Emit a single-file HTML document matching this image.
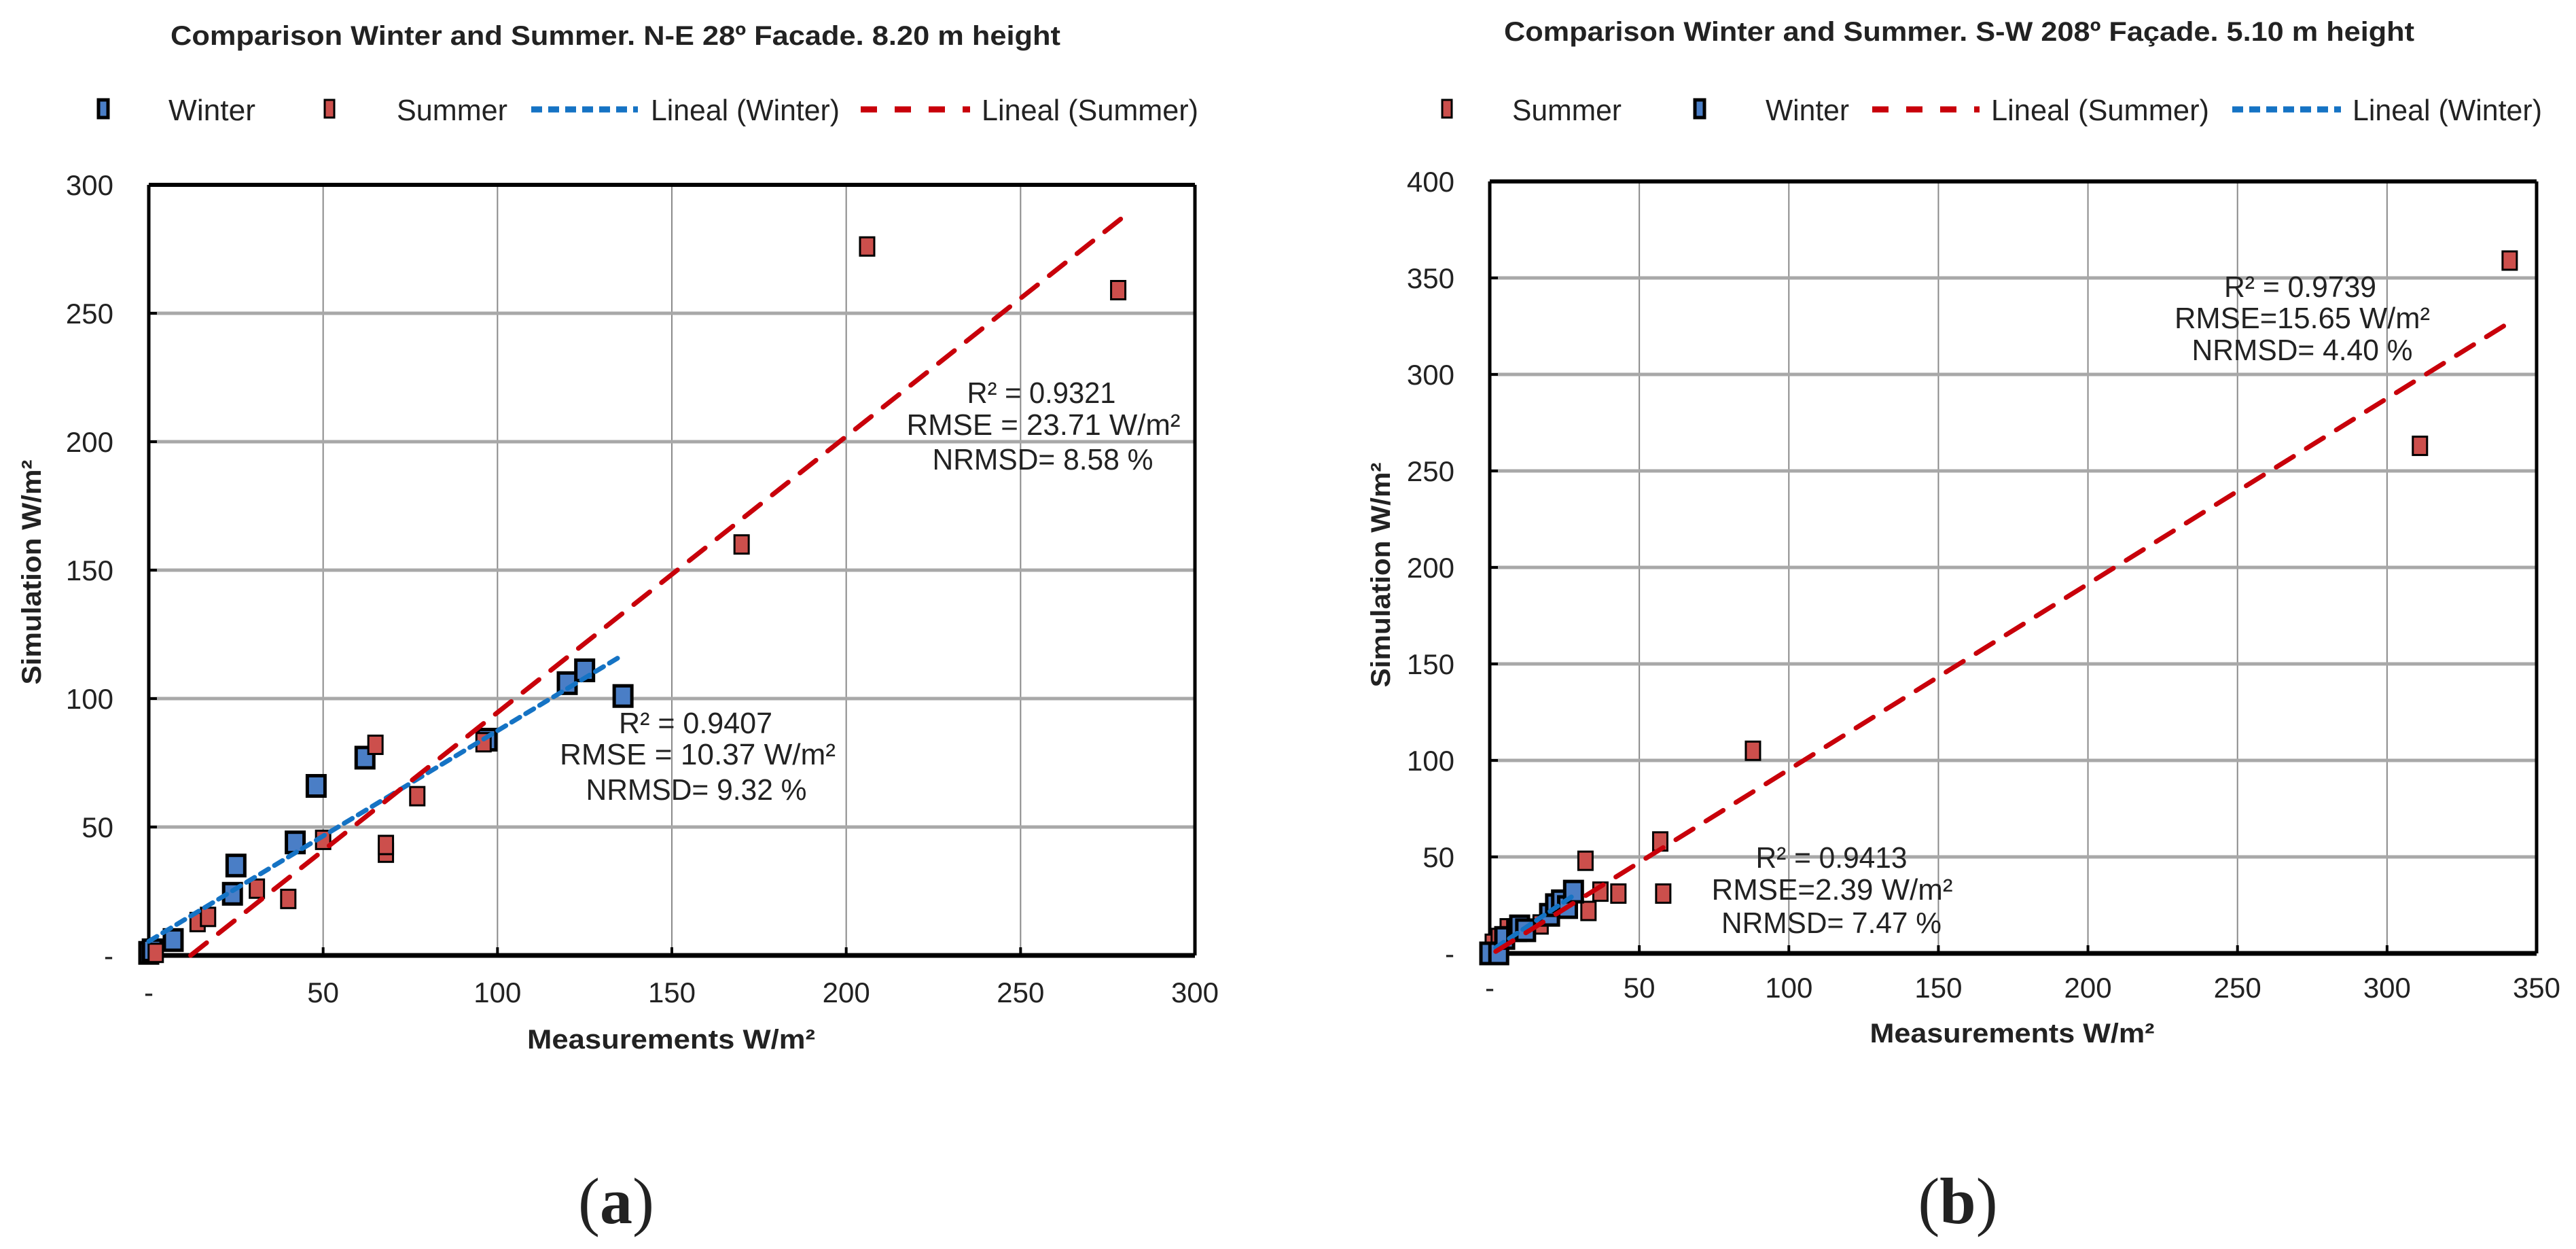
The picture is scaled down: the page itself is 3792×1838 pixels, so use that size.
<!DOCTYPE html>
<html><head><meta charset="utf-8"><style>
html,body{margin:0;padding:0;background:#fff}
svg{display:block}
text{font-family:"Liberation Sans",Arial,sans-serif;fill:#222}
</style></head>
<body>
<svg id="fig" width="3792" height="1838" viewBox="0 0 3792 1838" xmlns="http://www.w3.org/2000/svg"></svg>
<script>
// ---- Chart (a) data ----
const aWinterX = [0, 1, 7, 24, 25, 42, 48, 62, 97, 120, 125, 136];
const aWinterY = [1, 2, 6, 24, 35, 44, 66, 77, 84, 106, 111, 101];
const aSummerX = [2, 14, 17, 31, 40, 50, 65, 68, 68, 77, 96, 170, 206, 278];
const aSummerY = [1, 13, 15, 26, 22, 45, 82, 40, 43, 62, 83, 160, 276, 259];
const aWinterFit = [[0, 5.5], [136, 117]];
const aSummerFit = [[12, 0], [279, 287]];
const aXTicks = [0, 50, 100, 150, 200, 250, 300];
const aYTicks = [0, 50, 100, 150, 200, 250, 300];
// ---- Chart (b) data ----
const bWinterX = [0, 3, 5, 9, 10, 12, 20, 22, 24, 26, 28];
const bWinterY = [0, 0, 8, 12, 14, 12, 20, 25, 27, 24, 32];
const bSummerX = [1, 3, 6, 17, 32, 33, 37, 43, 57, 58, 88, 311, 341];
const bSummerY = [5, 8, 13, 15, 48, 22, 32, 31, 58, 31, 105, 263, 359];
const bSummerFit = [[2, 1], [341, 327]];
const bWinterFit = [[2, 3], [28, 30]];
const bXTicks = [0, 50, 100, 150, 200, 250, 300, 350];
const bYTicks = [0, 50, 100, 150, 200, 250, 300, 350, 400];

const NS = "http://www.w3.org/2000/svg";
const svg = document.getElementById('fig');
function mk(tag, attrs, parent) {
  const e = document.createElementNS(NS, tag);
  for (const k in attrs) e.setAttribute(k, attrs[k]);
  (parent || svg).appendChild(e);
  return e;
}
function txt(s, x, y, size, opts, parent) {
  opts = opts || {};
  const t = mk('text', {x: x, y: y, 'font-size': size, 'text-anchor': opts.anchor || 'start'}, parent);
  if (opts.bold) t.setAttribute('font-weight', 'bold');
  if (opts.len) { t.setAttribute('textLength', opts.len); t.setAttribute('lengthAdjust', 'spacingAndGlyphs'); }
  if (opts.rot) t.setAttribute('transform', 'rotate(-90 ' + x + ' ' + y + ')');
  t.textContent = s;
  return t;
}

function drawChart(cfg) {
  const g = mk('g', {});
  
  
  const sx = v => cfg.x0 + (v - cfg.xmin) / (cfg.xmax - cfg.xmin) * (cfg.x1 - cfg.x0);
  const sy = v => cfg.y0 - (v - cfg.ymin) / (cfg.ymax - cfg.ymin) * (cfg.y0 - cfg.y1);

  const ti = txt(cfg.title, cfg.titleX, cfg.titleY, 40, {anchor: 'middle', bold: true, len: cfg.titleLen}, g);
  
  

  cfg.xTicks.forEach(v => {
    if (v === cfg.xmin || v === cfg.xmax) return;
    const l = mk('line', {x1: sx(v), x2: sx(v), y1: cfg.y1, y2: cfg.y0, stroke: '#8a8a8a', 'stroke-width': 2}, g);
    
    
  });
  cfg.yTicks.forEach(v => {
    if (v === cfg.ymin || v === cfg.ymax) return;
    const l = mk('line', {x1: cfg.x0, x2: cfg.x1, y1: sy(v), y2: sy(v), stroke: '#a8a8a8', 'stroke-width': 5}, g);
    
    
  });
  const topL = mk('line', {x1: cfg.x0, x2: cfg.x1, y1: cfg.y1, y2: cfg.y1, stroke: '#000', 'stroke-width': 6}, g);
  
  
  const rL = mk('line', {x1: cfg.x1, x2: cfg.x1, y1: cfg.y1, y2: cfg.y0, stroke: '#000', 'stroke-width': 5}, g);
  
  
  const xa = mk('line', {x1: cfg.x0, x2: cfg.x1, y1: cfg.y0, y2: cfg.y0, stroke: '#000', 'stroke-width': 7}, g);
  
  
  const ya = mk('line', {x1: cfg.x0, x2: cfg.x0, y1: cfg.y1, y2: cfg.y0 + 3, stroke: '#000', 'stroke-width': 5}, g);
  
  

  cfg.yTicks.forEach(v => {
    const m = mk('line', {x1: cfg.x0, x2: cfg.x0 + 12, y1: sy(v), y2: sy(v), stroke: '#000', 'stroke-width': 4}, g);
    
    
    const t = txt(v === 0 ? '-' : String(v), cfg.x0 - 52, sy(v) + 15, 42, {anchor: 'end'}, g);
    
    
  });
  cfg.xTicks.forEach(v => {
    const m = mk('line', {x1: sx(v), x2: sx(v), y1: cfg.y0, y2: cfg.y0 - 12, stroke: '#000', 'stroke-width': 4}, g);
    
    
    const t = txt(v === 0 ? '-' : String(v), sx(v), cfg.xLabY, 42, {anchor: 'middle'}, g);
    
    
  });
  const xt = txt('Measurements W/m\u00B2', cfg.xTitleX, cfg.xTitleY, 40, {anchor: 'middle', bold: true, len: cfg.xTitleLen}, g);
  
  
  const yt = txt('Simulation W/m\u00B2', cfg.yTitleX, cfg.yTitleY, 40, {anchor: 'middle', bold: true, rot: true, len: 331}, g);
  
  

  function markers(xs, ys, kind) {
    xs.forEach((xv, i) => {
      const w = kind === 'winter' ? 26 : 21, h = kind === 'winter' ? 30 : 27;
      const r = mk('rect', {x: sx(xv) - w / 2, y: sy(ys[i]) - h / 2, width: w, height: h,
        fill: kind === 'winter' ? '#4a7ec6' : '#cc4f4c', stroke: '#000',
        'stroke-width': kind === 'winter' ? 5 : 3}, g);
      
      
    });
  }
  function fit(pts, kind) {
    const l = mk('line', {x1: sx(pts[0][0]), y1: sy(pts[0][1]), x2: sx(pts[1][0]), y2: sy(pts[1][1]),
      stroke: kind === 'winter' ? '#1573c4' : '#c8000a', 'stroke-width': 7,
      'stroke-dasharray': kind === 'winter' ? '14 10' : '30 22', 'stroke-linecap': 'round'}, g);
    
    
  }
  cfg.order.forEach(s => {
    if (s === 'winter') markers(cfg.wx, cfg.wy, 'winter');
    if (s === 'summer') markers(cfg.sx_, cfg.sy_, 'summer');
  });
  fit(cfg.wfit, 'winter');
  fit(cfg.sfit, 'summer');

  cfg.notes.forEach(n => {
    const t = txt(n[0], n[1], n[2], 44, {anchor: 'middle', len: n[3]}, g);
    
    
  });

  cfg.legend.forEach(it => {
    if (it.type === 'marker') {
      const r = mk('rect', {x: it.x - 7, y: 147, width: 14, height: 26,
        fill: it.kind === 'winter' ? '#4a7ec6' : '#cc4f4c', stroke: '#000', 'stroke-width': it.kind === 'winter' ? 5 : 3}, g);
      
      
    } else {
      const l = mk('line', {x1: it.x, x2: it.x2, y1: 161, y2: 161,
        stroke: it.kind === 'winter' ? '#1573c4' : '#c8000a', 'stroke-width': 9,
        'stroke-dasharray': it.kind === 'winter' ? '16 9' : '24 26'}, g);
      
      
    }
    const t = txt(it.label, it.tx, 177, 44, {len: it.tlen}, g);
    
    
  });
}

drawChart({
  name: 'chart-a', x0: 219, x1: 1759, y0: 1406, y1: 272, xmin: 0, xmax: 300, ymin: 0, ymax: 300,
  xTicks: aXTicks, yTicks: aYTicks, xLabY: 1475,
  title: 'Comparison Winter and Summer. N-E 28\u00BA Facade. 8.20 m height', titleX: 906, titleY: 66, titleLen: 1310,
  xTitleX: 988, xTitleY: 1543, xTitleLen: 424, yTitleX: 60, yTitleY: 842,
  wx: aWinterX, wy: aWinterY, sx_: aSummerX, sy_: aSummerY, wfit: aWinterFit, sfit: aSummerFit,
  order: ['winter', 'summer'],
  notes: [['R\u00B2 = 0.9321', 1533, 593, 219], ['RMSE = 23.71 W/m\u00B2', 1536, 640, 403], ['NRMSD= 8.58 %', 1535, 691, 325],
          ['R\u00B2 = 0.9407', 1024, 1079, 226], ['RMSE = 10.37 W/m\u00B2', 1027, 1125, 406], ['NRMSD= 9.32 %', 1025, 1177, 325]],
  legend: [
    {type: 'marker', kind: 'winter', x: 152, label: 'Winter', tx: 248, tlen: 128},
    {type: 'marker', kind: 'summer', x: 485, label: 'Summer', tx: 584, tlen: 163},
    {type: 'line', kind: 'winter', x: 782, x2: 939, label: 'Lineal (Winter)', tx: 958, tlen: 278},
    {type: 'line', kind: 'summer', x: 1267, x2: 1428, label: 'Lineal (Summer)', tx: 1445, tlen: 319}
  ]
});

drawChart({
  name: 'chart-b', x0: 2193, x1: 3734, y0: 1403, y1: 267, xmin: 0, xmax: 350, ymin: 0, ymax: 400,
  xTicks: bXTicks, yTicks: bYTicks, xLabY: 1468,
  title: 'Comparison Winter and Summer. S-W 208\u00BA Fa\u00E7ade. 5.10 m height', titleX: 2884, titleY: 60, titleLen: 1340,
  xTitleX: 2962, xTitleY: 1534, xTitleLen: 419, yTitleX: 2046, yTitleY: 846,
  wx: bWinterX, wy: bWinterY, sx_: bSummerX, sy_: bSummerY, wfit: bWinterFit, sfit: bSummerFit,
  order: ['summer', 'winter'],
  notes: [['R\u00B2 = 0.9739', 3386, 437, 224], ['RMSE=15.65 W/m\u00B2', 3389, 483, 376], ['NRMSD= 4.40 %', 3389, 530, 325],
          ['R\u00B2 = 0.9413', 2696, 1277, 223], ['RMSE=2.39 W/m\u00B2', 2697, 1324, 355], ['NRMSD= 7.47 %', 2696, 1373, 324]],
  legend: [
    {type: 'marker', kind: 'summer', x: 2130, label: 'Summer', tx: 2226, tlen: 161},
    {type: 'marker', kind: 'winter', x: 2502, label: 'Winter', tx: 2599, tlen: 123},
    {type: 'line', kind: 'summer', x: 2756, x2: 2914, label: 'Lineal (Summer)', tx: 2931, tlen: 321},
    {type: 'line', kind: 'winter', x: 3286, x2: 3446, label: 'Lineal (Winter)', tx: 3463, tlen: 279}
  ]
});

[['a', 907, 'subfigure-label-a'], ['b', 2882, 'subfigure-label-b']].forEach(d => {
  const t = mk('text', {x: d[1], y: 1800, 'font-size': 96, 'text-anchor': 'middle', style: 'font-family:"Liberation Serif",serif'});
  
  
  const p1 = mk('tspan', {}, t); p1.textContent = '(';
  const p2 = mk('tspan', {'font-weight': 'bold'}, t); p2.textContent = d[0];
  const p3 = mk('tspan', {}, t); p3.textContent = ')';
});
</script>
</body></html>
